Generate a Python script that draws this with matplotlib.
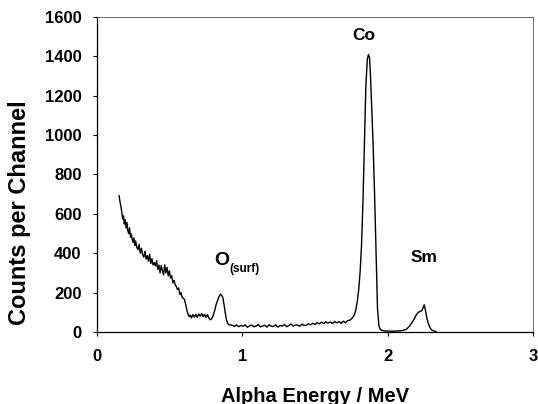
import matplotlib
matplotlib.use("Agg")
import matplotlib.pyplot as plt

plt.rcParams['font.family'] = ['Liberation Sans', 'DejaVu Sans']
plt.rcParams['font.weight'] = 'bold'

# Alpha energy (MeV) and counts per channel
energy = [0.152, 0.158, 0.164, 0.170, 0.176, 0.182, 0.188, 0.194, 0.200, 0.206,
          0.212, 0.218, 0.224, 0.230, 0.236, 0.242, 0.248, 0.254, 0.260, 0.266,
          0.274, 0.282, 0.290, 0.298, 0.306, 0.314, 0.322, 0.330, 0.338, 0.346,
          0.354, 0.362, 0.370, 0.378, 0.386, 0.394, 0.402, 0.410, 0.418, 0.426,
          0.434, 0.442, 0.450, 0.458, 0.466, 0.474, 0.482, 0.490, 0.498, 0.506,
          0.514, 0.522, 0.530, 0.538, 0.546, 0.554, 0.562, 0.570, 0.578, 0.586,
          0.594, 0.602, 0.610, 0.618, 0.626, 0.634, 0.642, 0.650, 0.660, 0.670,
          0.680, 0.690, 0.700, 0.710, 0.720, 0.730, 0.740, 0.750, 0.760, 0.770,
          0.780, 0.790, 0.800, 0.810, 0.820, 0.830, 0.840, 0.850, 0.858, 0.866,
          0.874, 0.882, 0.890, 0.898, 0.906, 0.914, 0.930, 0.945, 0.960, 0.975,
          0.990, 1.005, 1.020, 1.035, 1.050, 1.065, 1.080, 1.095, 1.110, 1.125,
          1.140, 1.155, 1.170, 1.185, 1.200, 1.215, 1.230, 1.245, 1.260, 1.275,
          1.290, 1.305, 1.320, 1.335, 1.350, 1.365, 1.380, 1.395, 1.410, 1.425,
          1.440, 1.455, 1.470, 1.485, 1.500, 1.515, 1.530, 1.545, 1.560, 1.575,
          1.590, 1.605, 1.620, 1.635, 1.650, 1.665, 1.680, 1.695, 1.710, 1.725,
          1.740, 1.755, 1.770, 1.780, 1.790, 1.800, 1.810, 1.820, 1.830, 1.840,
          1.850, 1.860, 1.868, 1.875, 1.882, 1.890, 1.900, 1.910, 1.920, 1.930,
          1.940, 1.950, 1.970, 2.000, 2.030, 2.060, 2.090, 2.110, 2.130, 2.150,
          2.165, 2.180, 2.195, 2.210, 2.222, 2.235, 2.245, 2.252, 2.260, 2.270,
          2.280, 2.290, 2.300, 2.315, 2.335]
counts = [692, 662, 640, 612, 575, 590, 548, 570, 528, 556,
          515, 500, 530, 482, 498, 470, 455, 478, 440, 462,
          430, 418, 445, 400, 425, 392, 380, 410, 370, 388,
          360, 395, 348, 372, 340, 352, 335, 362, 318, 340,
          300, 338, 312, 290, 342, 300, 328, 285, 310, 275,
          286, 250, 262, 240, 230, 215, 224, 190, 200, 175,
          172, 165, 140, 112, 92, 78, 86, 72, 88, 76,
          90, 74, 92, 80, 94, 78, 90, 74, 88, 70,
          62, 68, 85, 110, 140, 160, 180, 192, 185, 175,
          140, 100, 65, 45, 38, 36, 35, 28, 36, 27,
          33, 29, 36, 24, 31, 35, 27, 30, 38, 26,
          31, 34, 25, 37, 29, 28, 36, 25, 33, 30,
          38, 27, 33, 41, 30, 35, 36, 29, 40, 33,
          34, 42, 36, 45, 38, 48, 41, 50, 43, 52,
          45, 51, 43, 54, 46, 53, 44, 55, 47, 58,
          60, 70, 85, 110, 150, 210, 300, 440, 660, 960,
          1250, 1385, 1410, 1395, 1300, 1150, 950, 700, 420, 120,
          30, 12, 6, 5, 4, 5, 6, 9, 14, 30,
          45, 62, 85, 100, 104, 108, 126, 138, 110, 70,
          42, 24, 12, 6, 2]

x_ticks = [0, 1, 2, 3]
y_ticks = [0, 200, 400, 600, 800, 1000, 1200, 1400, 1600]

fig = plt.figure(figsize=(5.38, 4.04), dpi=100)
ax = fig.add_axes([97/538, 1 - 332/404, (533 - 97)/538, (332 - 17)/404])

ax.plot(energy, counts, color='black', lw=1.0)

ax.set_xlim(0, 3)
ax.set_ylim(0, 1600)
ax.set_xticks(x_ticks)
ax.set_yticks(y_ticks)
ax.tick_params(axis='both', direction='out', length=3, width=0.8, labelsize=12)
ax.tick_params(axis='y', pad=8)
ax.tick_params(axis='x', pad=9)
for lab in ax.get_xticklabels() + ax.get_yticklabels():
    lab.set_fontweight('bold')

for side in ['left', 'bottom']:
    ax.spines[side].set_linewidth(0.9)
for side in ['top', 'right']:
    ax.spines[side].set_linewidth(0.6)
    ax.spines[side].set_color('#555555')

ax.set_xlabel('Alpha Energy / MeV', fontsize=14.5, fontweight='bold')
ax.xaxis.set_label_coords(0.5, -0.175)
ax.xaxis.label.set_va('top')
ax.set_ylabel('Counts per Channel', fontsize=17, fontweight='bold')
ax.yaxis.set_label_coords(-0.152, 0.38)

ax.text(1.835, 1505, 'Co', fontsize=12.5, fontweight='bold', ha='center', va='center')
ax.text(2.25, 376, 'Sm', fontsize=12.5, fontweight='bold', ha='center', va='center')
ax.text(0.86, 365, 'O', fontsize=14, fontweight='bold', ha='center', va='center')
ax.text(0.91, 318, '(surf)', fontsize=8.5, fontweight='bold', ha='left', va='center')

fig.savefig('out.png', dpi=100)
